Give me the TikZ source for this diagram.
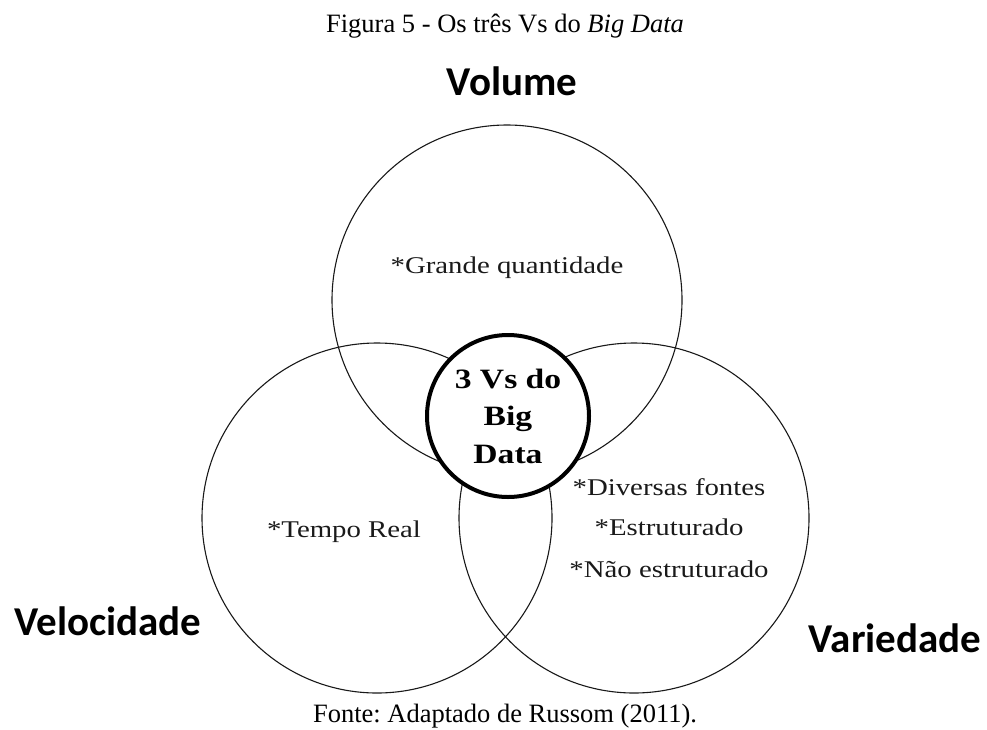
\documentclass[tikz,border=0pt]{standalone}
\usepackage{fontspec}
\setmainfont{Liberation Serif}
\newfontfamily\labelfont{Carlito}
\newfontfamily\wideserif[FakeStretch=1.2]{Liberation Serif}
\definecolor{ink}{HTML}{1A1A1A}
\frenchspacing

\begin{document}
\begin{tikzpicture}[x=1pt,y=-1pt,
  ring/.style={circle, draw=black!90, line width=1.1pt, minimum size=350pt, inner sep=0pt},
  core/.style={circle, draw=black, line width=4pt, fill=white, minimum size=162pt,
    inner sep=0pt, align=center, font=\wideserif\bfseries\fontsize{28}{37.5}\selectfont},
  vlabel/.style={anchor=base, inner sep=0pt, font=\labelfont\bfseries\fontsize{41}{41}\selectfont},
  item/.style={anchor=base, inner sep=0pt, text=ink, font=\wideserif\fontsize{24}{24}\selectfont},
  caption/.style={anchor=base, inner sep=0pt, font=\fontsize{26.5}{26.5}\selectfont}]

  % page frame
  \path[use as bounding box] (0,0) rectangle (987,729);

  % caption above and source below
  \node[caption] (title) at (505,32) {Figura 5 - Os três Vs do \textit{Big Data}};
  \node[caption] (source) at (505,722) {Fonte: Adaptado de Russom (2011).};

  % the three overlapping circles
  \node[ring] (vol) at (507,300) {};
  \node[ring] (vel) at (377,518) {};
  \node[ring] (var) at (634,518) {};

  % central circle
  \node[core] (core) at (508,416) {3 Vs do\\Big\\Data};

  % headings
  \node[vlabel] (hvol) at (512,95) {Volume};
  \node[vlabel] (hvel) at (108,635) {Velocidade};
  \node[vlabel] (hvar) at (895,652) {Variedade};

  % contents of each circle
  \node[item] (i1) at (507,273) {*Grande quantidade};
  \node[item] (i2) at (344,537) {*Tempo Real};
  \node[item] (i3) at (669,495) {*Diversas fontes};
  \node[item] (i4) at (669,535) {*Estruturado};
  \node[item] (i5) at (669,577) {*Não estruturado};
\end{tikzpicture}
\end{document}
